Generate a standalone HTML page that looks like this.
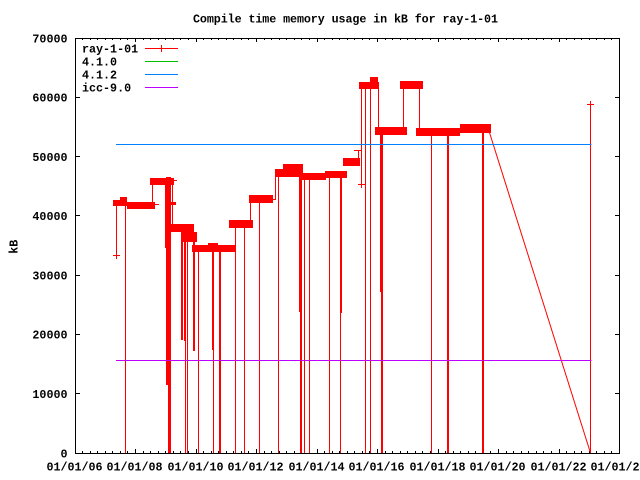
<!DOCTYPE html>
<html><head><meta charset="utf-8"><style>
html,body{margin:0;padding:0;background:#fff;}
svg{display:block;}
text{font-family:"Liberation Mono","DejaVu Sans Mono",monospace;font-weight:bold;font-size:11.7px;fill:#000;}
</style></head><body>
<svg xmlns="http://www.w3.org/2000/svg" width="640" height="480" viewBox="0 0 640 480">
<rect width="640" height="480" fill="#fff"/>

<!-- title -->
<text x="193" y="22.7" textLength="305" lengthAdjust="spacing">Compile time memory usage in kB for ray-1-01</text>

<!-- y label -->
<text transform="translate(17.5,246.7) rotate(-90)" text-anchor="middle">kB</text>

<!-- y tick labels -->
<g text-anchor="end">
<text x="67.5" y="457.3">0</text>
<text x="67.5" y="398">10000</text>
<text x="67.5" y="338.7">20000</text>
<text x="67.5" y="279.4">30000</text>
<text x="67.5" y="220.2">40000</text>
<text x="67.5" y="160.9">50000</text>
<text x="67.5" y="101.6">60000</text>
<text x="67.5" y="42.7">70000</text>
</g>

<!-- x tick labels -->
<g text-anchor="middle">
<text x="74.5" y="470.7">01/01/06</text>
<text x="134.5" y="470.7">01/01/08</text>
<text x="195.5" y="470.7">01/01/10</text>
<text x="255.5" y="470.7">01/01/12</text>
<text x="316.5" y="470.7">01/01/14</text>
<text x="376.5" y="470.7">01/01/16</text>
<text x="437.5" y="470.7">01/01/18</text>
<text x="497.5" y="470.7">01/01/20</text>
<text x="558.5" y="470.7">01/01/22</text>
<text x="618.5" y="470.7">01/01/24</text>
</g>

<!-- ticks -->
<g stroke="#000" stroke-width="1" fill="none" shape-rendering="crispEdges">
<path d="M75 393.5h5M75 334.5h5M75 275.5h5M75 215.5h5M75 156.5h5M75 97.5h5
M615 393.5h5M615 334.5h5M615 275.5h5M615 215.5h5M615 156.5h5M615 97.5h5"/>
<!-- major x ticks -->
<path d="M135.5 453v-4M196.5 453v-4M256.5 453v-4M317.5 453v-4M377.5 453v-4M438.5 453v-4M498.5 453v-4M559.5 453v-4
M135.5 38v4M196.5 38v4M256.5 38v4M317.5 38v4M377.5 38v4M438.5 38v4M498.5 38v4M559.5 38v4"/>
<!-- minor x ticks bottom -->
<path d="M82.5 453v-2M90.5 453v-2M97.5 453v-2M105.5 453v-2M112.5 453v-2M120.5 453v-2M127.5 453v-2
M143.5 453v-2M150.5 453v-2M158.5 453v-2M165.5 453v-2M173.5 453v-2M180.5 453v-2M188.5 453v-2
M203.5 453v-2M211.5 453v-2M218.5 453v-2M226.5 453v-2M233.5 453v-2M241.5 453v-2M248.5 453v-2
M264.5 453v-2M271.5 453v-2M279.5 453v-2M286.5 453v-2M294.5 453v-2M301.5 453v-2M309.5 453v-2
M324.5 453v-2M332.5 453v-2M339.5 453v-2M347.5 453v-2M354.5 453v-2M362.5 453v-2M369.5 453v-2
M385.5 453v-2M392.5 453v-2M400.5 453v-2M407.5 453v-2M415.5 453v-2M422.5 453v-2M430.5 453v-2
M445.5 453v-2M453.5 453v-2M460.5 453v-2M468.5 453v-2M475.5 453v-2M483.5 453v-2M490.5 453v-2
M506.5 453v-2M513.5 453v-2M521.5 453v-2M528.5 453v-2M536.5 453v-2M543.5 453v-2M551.5 453v-2
M566.5 453v-2M574.5 453v-2M581.5 453v-2M589.5 453v-2M596.5 453v-2M604.5 453v-2M611.5 453v-2"/>
<!-- minor x ticks top -->
<path d="M82.5 38v2M90.5 38v2M97.5 38v2M105.5 38v2M112.5 38v2M120.5 38v2M127.5 38v2
M143.5 38v2M150.5 38v2M158.5 38v2M165.5 38v2M173.5 38v2M180.5 38v2M188.5 38v2
M203.5 38v2M211.5 38v2M218.5 38v2M226.5 38v2M233.5 38v2M241.5 38v2M248.5 38v2
M264.5 38v2M271.5 38v2M279.5 38v2M286.5 38v2M294.5 38v2M301.5 38v2M309.5 38v2
M324.5 38v2M332.5 38v2M339.5 38v2M347.5 38v2M354.5 38v2M362.5 38v2M369.5 38v2
M385.5 38v2M392.5 38v2M400.5 38v2M407.5 38v2M415.5 38v2M422.5 38v2M430.5 38v2
M445.5 38v2M453.5 38v2M460.5 38v2M468.5 38v2M475.5 38v2M483.5 38v2M490.5 38v2
M506.5 38v2M513.5 38v2M521.5 38v2M528.5 38v2M536.5 38v2M543.5 38v2M551.5 38v2
M566.5 38v2M574.5 38v2M581.5 38v2M589.5 38v2M596.5 38v2M604.5 38v2M611.5 38v2"/>
</g>

<!-- red series -->
<g fill="#ff0000" shape-rendering="crispEdges">
<!-- clusters -->
<rect x="113" y="200" width="14" height="6"/>
<rect x="120" y="197" width="7" height="5"/>
<rect x="127" y="202" width="28" height="7"/>
<rect x="155" y="204" width="4" height="1"/>
<rect x="150" y="178" width="24" height="7"/>
<rect x="174" y="180" width="3" height="1"/>
<rect x="169" y="202" width="7" height="3"/>
<rect x="171" y="224" width="23" height="8"/>
<rect x="183" y="232" width="14" height="10"/>
<rect x="192" y="245" width="43" height="7"/>
<rect x="208" y="243" width="10" height="3"/>
<rect x="229" y="220" width="24" height="8"/>
<rect x="249" y="195" width="24" height="8"/>
<rect x="273" y="199" width="3" height="1"/>
<rect x="275" y="169" width="28" height="8"/>
<rect x="283" y="164" width="20" height="8"/>
<rect x="302" y="173" width="24" height="7"/>
<rect x="325" y="171" width="22" height="7"/>
<rect x="343" y="158" width="17" height="8"/>
<rect x="359" y="82" width="20" height="7"/>
<rect x="370" y="77" width="8" height="7"/>
<rect x="375" y="127" width="32" height="8"/>
<rect x="400" y="81" width="23" height="8"/>
<rect x="416" y="128" width="44" height="8"/>
<rect x="460" y="124" width="31" height="9"/>

<!-- thick drops -->
<rect x="166" y="177" width="2" height="208"/>
<rect x="168" y="177" width="3" height="276"/>
<rect x="181" y="227" width="2" height="113"/>
<rect x="184" y="230" width="2" height="111"/>
<rect x="193" y="242" width="2" height="109"/>
<rect x="212" y="248" width="2" height="102"/>
<rect x="219" y="248" width="2" height="205"/>
<rect x="299" y="170" width="3" height="142"/>
<rect x="300" y="170" width="2" height="283"/>
<rect x="340" y="174" width="2" height="139"/>
<rect x="340" y="174" width="1" height="279"/>
<rect x="380" y="130" width="3" height="162"/>
<rect x="381" y="130" width="2" height="323"/>
<rect x="447" y="132" width="2" height="321"/>
<rect x="482" y="128" width="2" height="325"/>

<!-- thin drops to zero -->
<rect x="125" y="203" width="1" height="250"/>
<rect x="185" y="230" width="1" height="223"/>
<rect x="187" y="235" width="1" height="218"/>
<rect x="198" y="248" width="1" height="205"/>
<rect x="213" y="248" width="1" height="205"/>
<rect x="235" y="222" width="1" height="231"/>
<rect x="244" y="222" width="1" height="231"/>
<rect x="259" y="198" width="1" height="255"/>
<rect x="278" y="170" width="1" height="283"/>
<rect x="304" y="174" width="1" height="279"/>
<rect x="309" y="175" width="1" height="278"/>
<rect x="329" y="175" width="1" height="278"/>
<rect x="365" y="83" width="1" height="370"/>
<rect x="370" y="83" width="1" height="370"/>
<rect x="431" y="132" width="1" height="321"/>
<rect x="590" y="104" width="1" height="349"/>

<!-- connecting verticals -->
<rect x="116" y="203" width="1" height="53"/>
<rect x="152" y="180" width="1" height="25"/>
<rect x="165" y="180" width="1" height="68"/>
<rect x="172" y="180" width="1" height="47"/>
<rect x="250" y="195" width="1" height="29"/>
<rect x="275" y="170" width="1" height="30"/>
<rect x="358" y="150" width="1" height="10"/>
<rect x="361" y="84" width="1" height="100"/>
<rect x="378" y="84" width="1" height="46"/>
<rect x="403" y="84" width="1" height="46"/>
<rect x="419" y="84" width="1" height="46"/>

<!-- plus markers -->
<rect x="113" y="255" width="7" height="1"/><rect x="116" y="252" width="1" height="7"/>
<rect x="358" y="184" width="7" height="1"/><rect x="361" y="181" width="1" height="7"/>
<rect x="587" y="104" width="7" height="1"/><rect x="590" y="101" width="1" height="7"/>
<rect x="354" y="150" width="7" height="1"/>
</g>
<path d="M489 131 L590.5 453" stroke="#ff0000" stroke-width="1" fill="none"/>

<!-- other series -->
<g shape-rendering="crispEdges" stroke-width="1" fill="none">
<path d="M116 144.5H591.5" stroke="#00c000"/>
<path d="M116 144.5H591.5" stroke="#0080ff"/>
<path d="M116 360.5H591.5" stroke="#c000ff"/>
</g>

<!-- legend -->
<text x="82" y="52.7">ray-1-01</text>
<text x="82" y="65.7">4.1.0</text>
<text x="82" y="78.7">4.1.2</text>
<text x="82" y="91.7">icc-9.0</text>
<g shape-rendering="crispEdges" stroke-width="1" fill="none">
<path d="M145 48.5H178M161.5 45v7" stroke="#ff0000"/>
<path d="M145 61.5H178" stroke="#00c000"/>
<path d="M145 74.5H178" stroke="#0080ff"/>
<path d="M145 87.5H178" stroke="#c000ff"/>
</g>

<!-- border -->
<rect x="75.5" y="38.5" width="544" height="415" fill="none" stroke="#000" stroke-width="1" shape-rendering="crispEdges"/>
</svg>
</body></html>
